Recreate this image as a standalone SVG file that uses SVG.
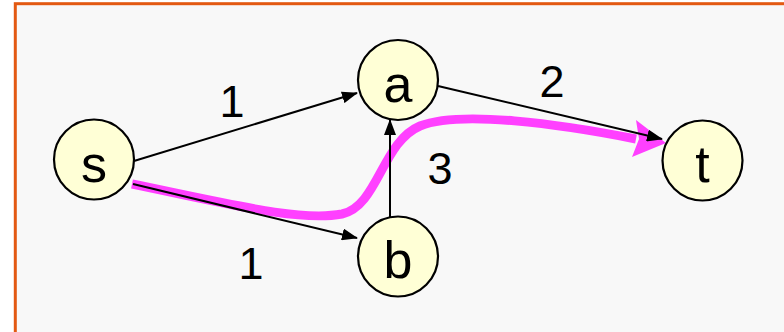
<svg xmlns="http://www.w3.org/2000/svg" width="784" height="332" viewBox="0 0 784 332">
<style>
.node{fill:#ffffd6;stroke:#000;stroke-width:2.2}
.nl{font-family:"Liberation Sans",Arial,sans-serif;font-size:52px;fill:#000;text-anchor:middle}
.el{font-family:"Liberation Sans",Arial,sans-serif;font-size:45px;fill:#000;text-anchor:middle}
.edge{stroke:#000;stroke-width:2;fill:none;marker-end:url(#ah)}
.hl{stroke:#ff40ff;stroke-width:9;fill:none}
</style>
<defs>
<marker id="ah" markerWidth="16" markerHeight="12" refX="15" refY="6" orient="auto" markerUnits="userSpaceOnUse">
<path d="M0,0 L16,6 L0,12 Z" fill="#000"/>
</marker>
</defs>
<rect x="0" y="0" width="784" height="332" fill="#fff"/>
<rect x="15.3" y="3.7" width="800" height="340" fill="#f8f8f8" stroke="#e35912" stroke-width="3"/>
<g id="highlight">
<path class="hl" d="M132,184 C230,204 300,222 342,214 C378,206 382,142 420,126 C460,110 560,124 636,139"/>
<polygon points="666,143 632,157 639,139 636,120" fill="#ff40ff"/>
</g>
<g id="connectors">
<line class="edge" x1="134" y1="161" x2="357" y2="93"/>
<line class="edge" x1="133" y1="184" x2="357" y2="238"/>
<line class="edge" x1="390" y1="217" x2="390" y2="120"/>
<line class="edge" x1="438" y1="86" x2="662" y2="139"/>
<text class="el" x="232" y="117">1</text>
<text class="el" x="251" y="279">1</text>
<text class="el" x="440" y="184">3</text>
<text class="el" x="552" y="97">2</text>
</g>
<g id="node-s"><circle class="node" cx="94" cy="159.5" r="40"/><text class="nl" x="94" y="182">s</text></g>
<g id="node-a"><circle class="node" cx="398" cy="80" r="40"/><text class="nl" x="398" y="102">a</text></g>
<g id="node-b"><circle class="node" cx="398" cy="256.5" r="40"/><text class="nl" x="398" y="278">b</text></g>
<g id="node-t"><circle class="node" cx="702.5" cy="160.5" r="40"/><text class="nl" x="702.5" y="182">t</text></g>
</svg>
